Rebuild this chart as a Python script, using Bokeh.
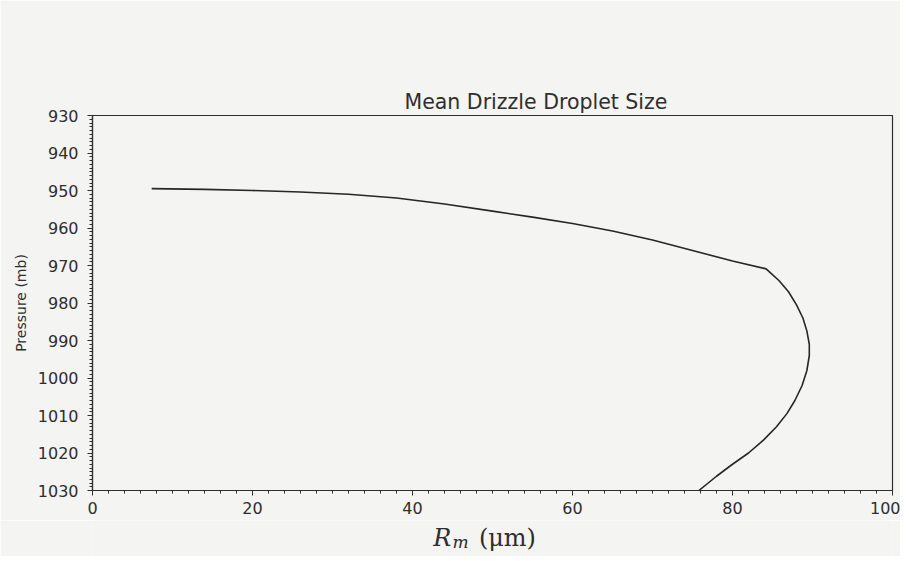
from bokeh.plotting import figure
from bokeh.models import Range1d, FixedTicker, Label
from bokeh.layouts import column
from bokeh.embed import file_html
from bokeh.resources import INLINE

# Mean drizzle droplet radius (um) versus pressure (mb)
radius_um = [7.4, 14.0, 20.0, 26.0, 32.0, 38.0, 44.0, 50.0, 55.0, 60.0, 65.0, 70.0, 75.0, 80.0, 84.2,
             85.8, 87.0, 88.0, 88.8, 89.3, 89.6, 89.6, 89.3, 88.7, 87.8, 86.8, 85.5, 83.9, 82.0,
             80.0, 78.0, 75.8]
pressure_mb = [949.5, 949.7, 950.0, 950.4, 951.0, 952.0, 953.6, 955.5, 957.1, 958.8, 960.8, 963.2,
               966.0, 968.8, 970.9,
               974.0, 977.0, 980.5, 984.0, 987.5, 991.0, 994.0, 998.0, 1002.0, 1006.0, 1009.5,
               1013.0, 1016.5, 1020.0, 1023.0, 1026.2, 1030.0]

x_ticks = [0, 20, 40, 60, 80, 100]
y_ticks = [930, 940, 950, 960, 970, 980, 990, 1000, 1010, 1020, 1030]

title_text = "Mean Drizzle Droplet Size"
y_label = "Pressure (mb)"
x_label_main = "R"
x_label_sub = "m"
x_label_unit = "(\u03bcm)"

TXT = "#2e2e2e"
BG = "#f4f4f2"
W = 900

p = figure(width=W, height=520,
           x_range=Range1d(0, 100), y_range=Range1d(1030, 930),
           output_backend="svg", toolbar_location=None,
           min_border_left=92, min_border_right=W - 892,
           min_border_top=115, min_border_bottom=30,
           background_fill_color=BG, border_fill_color=BG)

p.grid.visible = False
p.outline_line_color = TXT
p.outline_line_width = 1.2

p.title.text = title_text
p.title.align = "left"
p.title.offset = 312
p.title.standoff = 4
p.title.text_font = "DejaVu Sans"
p.title.text_font_size = "20.5px"
p.title.text_font_style = "normal"
p.title.text_color = TXT

p.xaxis.ticker = FixedTicker(ticks=x_ticks, minor_ticks=list(range(0, 101, 2)))
p.yaxis.ticker = FixedTicker(ticks=y_ticks, minor_ticks=list(range(930, 1031, 1)))

for ax in (p.xaxis, p.yaxis):
    ax.axis_line_color = TXT
    ax.axis_line_width = 1.2
    ax.major_tick_line_color = TXT
    ax.minor_tick_line_color = TXT
    ax.major_tick_out = 5
    ax.major_tick_in = 0
    ax.minor_tick_out = 3
    ax.minor_tick_in = 0
    ax.major_label_text_font = "DejaVu Sans"
    ax.major_label_text_font_size = "16px"
    ax.major_label_text_color = TXT

p.xaxis.major_label_standoff = 6
p.yaxis.major_label_standoff = 9
p.yaxis.axis_label = y_label
p.yaxis.axis_label_text_font = "DejaVu Sans"
p.yaxis.axis_label_text_font_size = "14px"
p.yaxis.axis_label_text_font_style = "normal"
p.yaxis.axis_label_text_color = TXT
p.yaxis.axis_label_standoff = 6

p.line(radius_um, pressure_mb, line_color="#262626", line_width=1.6)

# strip below the chart holding the x-axis label R_m (um), same horizontal scale
q = figure(width=W, height=36, x_range=p.x_range, y_range=Range1d(0, 36),
           title=None, output_backend="svg", toolbar_location=None,
           x_axis_location=None, y_axis_location=None,
           min_border_left=92, min_border_right=W - 892, min_border_top=0, min_border_bottom=0,
           background_fill_color=BG, border_fill_color=BG)
q.grid.visible = False
q.outline_line_color = None

lab_r = Label(x=42.6, y=19, text=x_label_main, text_font="DejaVu Serif",
              text_font_style="italic", text_font_size="24px", text_color=TXT,
              text_baseline="alphabetic", text_align="left")
lab_m = Label(x=45.0, y=15, text=x_label_sub, text_font="DejaVu Serif",
              text_font_style="italic", text_font_size="17px", text_color=TXT,
              text_baseline="alphabetic", text_align="left")
lab_u = Label(x=48.3, y=19, text=x_label_unit, text_font="DejaVu Serif",
              text_font_style="normal", text_font_size="24px", text_color=TXT,
              text_baseline="alphabetic", text_align="left")
for lab in (lab_r, lab_m, lab_u):
    q.add_layout(lab)

layout = column(p, q, spacing=0)
open("out.html", "w").write(file_html(layout, INLINE))
